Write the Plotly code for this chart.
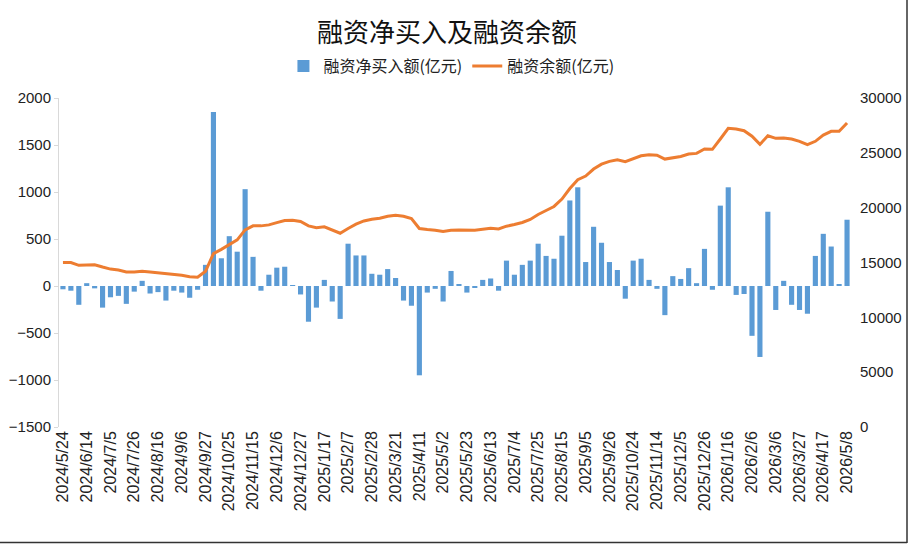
import pandas as pd
import plotly.graph_objects as go

# Weekly dates (Fridays), holiday weeks without trading excluded
all_fridays = pd.date_range("2024-05-24", "2026-05-08", freq="7D")
missing_weeks = ["2024-10-04", "2025-10-03", "2026-02-20"]
dates = [f"{d.year}/{d.month}/{d.day}" for d in all_fridays
         if d.strftime("%Y-%m-%d") not in missing_weeks]

net_buy = [
    -35, -50, -200, 30, -25, -230, -120, -105, -190, -60,
    55, -80, -65, -155, -50, -70, -125, -40, 225, 1850,
    295, 530, 365, 1030, 310, -50, 120, 195, 205, 10,
    -90, -380, -230, 65, -165, -350, 450, 325, 325, 130,
    120, 180, 85, -155, -210, -950, -70, -30, -165, 160,
    20, -70, -15, 65, 80, -50, 270, 120, 225, 270,
    450, 320, 290, 535, 910, 1050, 255, 630, 460, 255,
    170, -135, 270, 290, 65, -30, -310, 105, 75, 190,
    30, 395, -40, 855, 1050, -95, -85, -530, -755, 790,
    -255, 55, -200, -255, -295, 320, 555, 420, 20, 705,
]

balance = [
    14990, 15000, 14740, 14800, 14800, 14590, 14400, 14310, 14130, 14130,
    14190, 14130, 14070, 13950, 13890, 13830, 13710, 13650, 14200, 15810,
    16200, 16660, 17060, 17970, 18340, 18340, 18430, 18640, 18830, 18860,
    18740, 18340, 18170, 18250, 17970, 17670, 18100, 18490, 18790, 18950,
    19040, 19220, 19310, 19220, 19010, 18100, 18000, 17950, 17820, 17940,
    17970, 17940, 17940, 18030, 18130, 18060, 18310, 18460, 18650, 18920,
    19380, 19740, 20110, 20780, 21750, 22550, 22880, 23520, 23970, 24220,
    24370, 24190, 24490, 24730, 24820, 24790, 24430, 24580, 24670, 24890,
    24950, 25350, 25320, 26260, 27240, 27180, 27020, 26510, 25770, 26560,
    26320, 26350, 26260, 26050, 25740, 26050, 26620, 26960, 26960, 27720,
]

left_ticks = [-1500, -1000, -500, 0, 500, 1000, 1500, 2000]
right_ticks = [0, 5000, 10000, 15000, 20000, 25000, 30000]

title_text = "融资净买入及融资余额"
bar_name = "融资净买入额(亿元)"
line_name = "融资余额(亿元)"

CJK = "Noto Sans CJK SC"
LAT = "Liberation Sans, Arial, sans-serif"

fig = go.Figure()
fig.add_trace(go.Bar(
    x=dates, y=net_buy, name=bar_name,
    marker=dict(color="#5B9BD5", line=dict(width=0)),
    yaxis="y",
))
fig.add_trace(go.Scatter(
    x=dates, y=balance, name=line_name, mode="lines",
    line=dict(color="#ED7D31", width=3),
    yaxis="y2",
))

fig.update_layout(
    width=909, height=544,
    margin=dict(l=59, r=58, t=98, b=117, autoexpand=False),
    paper_bgcolor="white", plot_bgcolor="white",
    bargap=0.35,
    showlegend=True,
    title=dict(text=title_text, x=447 / 909, xanchor="center",
               y=1 - 33 / 544, yanchor="middle",
               font=dict(family=CJK, size=26, color="#111111")),
    legend=dict(orientation="h", x=0.4955, xanchor="center",
                y=1 + 32 / 329, yanchor="middle",
                font=dict(family=CJK, size=16, color="#222222"),
                itemwidth=30, traceorder="normal",
                bgcolor="rgba(0,0,0,0)"),
    xaxis=dict(type="category", tickmode="array",
               tickvals=dates[::3], ticktext=dates[::3],
               tickangle=-90, showgrid=False, showline=False,
               zeroline=False, ticks="", automargin=False,
               tickfont=dict(family=LAT, size=16, color="#222222")),
    yaxis=dict(range=[-1500, 2000], tickmode="array", tickvals=left_ticks,
               showgrid=False, zeroline=False, automargin=False,
               showline=True, linecolor="#D9D9D9", linewidth=1,
               ticks="outside", ticklen=4, tickcolor="#D9D9D9",
               tickformat="d",
               tickfont=dict(family=LAT, size=15, color="#222222")),
    yaxis2=dict(range=[0, 30000], tickmode="array", tickvals=right_ticks,
                ticktext=[str(v) for v in right_ticks],
                overlaying="y", side="right", showgrid=False,
                zeroline=False, showline=False, ticks="",
                automargin=False, ticklabelstandoff=8,
                tickfont=dict(family=LAT, size=15, color="#222222")),
)

# image frame at right and bottom edges
fig.add_shape(type="line", xref="paper", yref="paper",
              x0=(907 - 59) / 792, x1=(907 - 59) / 792,
              y0=(427 - 0) / 329, y1=(427 - 543) / 329,
              line=dict(color="#333333", width=1.5))
fig.add_shape(type="line", xref="paper", yref="paper",
              x0=-59 / 792, x1=(907 - 59) / 792,
              y0=(427 - 542.5) / 329, y1=(427 - 542.5) / 329,
              line=dict(color="#333333", width=1.5))

fig.write_html("out.html")
